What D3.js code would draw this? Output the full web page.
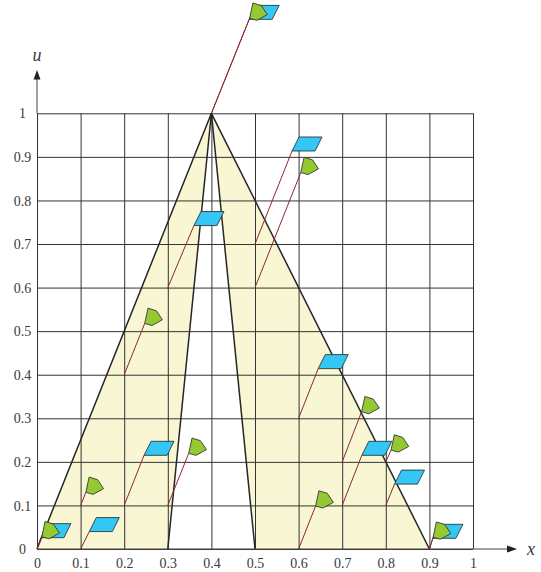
<!DOCTYPE html>
<html>
<head>
  <meta charset="utf-8">
  <script src="https://d3js.org/d3.v7.min.js"></script>
  <style>
    html, body { margin: 0; padding: 0; background: #fff; }
    svg { display: block; }
    svg text { font-family: "Liberation Serif", "Times New Roman", Times !important; fill: #3a3a3a; }
  </style>
</head>
<body>
<div id="chart"></div>

<script>
  var xTicks = [0, 0.1, 0.2, 0.3, 0.4, 0.5, 0.6, 0.7, 0.8, 0.9, 1];
  var uTicks = [0, 0.1, 0.2, 0.3, 0.4, 0.5, 0.6, 0.7, 0.8, 0.9, 1];

  // the two shaded pieces, [x, u]
  var leftPiece = [[0, 0], [0.4, 1], [0.3, 0]];
  var rightPiece = [[0.5, 0], [0.4, 1], [0.9, 0]];

  // trajectories: start on the grid -> where the marker sits
  var blueStartX = [0, 0.1, 0.2, 0.3, 0.5, 0.6, 0.7, 0.8, 0.9, 0.4];
  var blueStartU = [0, 0, 0.1, 0.6, 0.7, 0.3, 0.1, 0.1, 0, 1];
  var blueEndX = [0.009, 0.120, 0.2455, 0.36, 0.585, 0.645, 0.745, 0.82, 0.908, 0.4867];
  var blueEndU = [0.026, 0.040, 0.215, 0.7424, 0.9135, 0.414, 0.215, 0.149, 0.0245, 1.2156];

  var greenStartX = [0, 0.1, 0.2, 0.3, 0.5, 0.6, 0.7, 0.8, 0.9, 0.4];
  var greenStartU = [0, 0.1, 0.4, 0.1, 0.6, 0, 0.2, 0.2, 0, 1];
  var greenEndX = [0.011, 0.112, 0.247, 0.348, 0.605, 0.639, 0.7445, 0.812, 0.9085, 0.4876];
  var greenEndU = [0.028, 0.13, 0.5176, 0.2195, 0.864, 0.0986, 0.315, 0.227, 0.027, 1.218];

  var width = 541, height = 572;

  var x = d3.scaleLinear().domain([0, 1]).range([37, 473]);
  var u = d3.scaleLinear().domain([0, 1]).range([549, 113.3]);

  var svg = d3.select('#chart').append('svg')
    .attr('width', width)
    .attr('height', height);

  var line = d3.line()
    .x(function(d) { return x(d[0]); })
    .y(function(d) { return u(d[1]); });

  // shading goes under the grid
  svg.selectAll('path.piece')
    .data([leftPiece, rightPiece])
    .enter().append('path')
    .attr('class', 'piece')
    .attr('d', function(d) { return line(d) + 'Z'; })
    .attr('fill', '#f8f6d3');

  // grid + tick labels
  var xAxis = svg.append('g')
    .attr('transform', 'translate(0,' + u(0) + ')')
    .call(d3.axisBottom(x).tickValues(xTicks).tickFormat(String)
      .tickSize(u(0) - u(1)).tickSizeOuter(0));
  xAxis.select('.domain').remove();
  xAxis.attr('font-family', null);
  xAxis.selectAll('line').attr('y2', u(1) - u(0)).attr('stroke', '#333').attr('stroke-width', 1);
  xAxis.selectAll('text')
    .attr('y', 18.7).attr('dy', null)
    .style('font-size', '14px');

  var uAxis = svg.append('g')
    .attr('transform', 'translate(' + x(0) + ',0)')
    .call(d3.axisLeft(u).tickValues(uTicks).tickFormat(String)
      .tickSize(x(0) - x(1)).tickSizeOuter(0));
  uAxis.select('.domain').remove();
  uAxis.attr('font-family', null);
  uAxis.selectAll('line').attr('stroke', '#333').attr('stroke-width', 1);
  uAxis.selectAll('text')
    .attr('x', -14.5).attr('dy', '0.33em')
    .attr('text-anchor', 'middle')
    .style('font-size', '14px');

  // outline of the shaded pieces
  svg.selectAll('path.edge')
    .data([leftPiece, rightPiece])
    .enter().append('path')
    .attr('class', 'edge')
    .attr('d', line)
    .attr('fill', 'none')
    .attr('stroke', '#262626')
    .attr('stroke-width', 1.5);

  // arrow axes
  svg.append('line')
    .attr('x1', x(0)).attr('y1', u(0))
    .attr('x2', 510).attr('y2', u(0))
    .attr('stroke', '#444').attr('stroke-width', 1);
  svg.append('line')
    .attr('x1', x(0)).attr('y1', u(1))
    .attr('x2', x(0)).attr('y2', 78)
    .attr('stroke', '#444').attr('stroke-width', 1);
  svg.append('path')
    .attr('d', 'M517,' + u(0) + 'L507,' + (u(0) - 3.5) + 'L507,' + (u(0) + 3.5) + 'Z')
    .attr('fill', '#222');
  svg.append('path')
    .attr('d', 'M' + x(0) + ',70L' + (x(0) - 3.5) + ',79.5L' + (x(0) + 3.5) + ',79.5Z')
    .attr('fill', '#222');

  svg.append('text')
    .attr('x', x(0)).attr('y', 61)
    .attr('text-anchor', 'middle')
    .style('font-size', '18px').style('font-style', 'italic')
    .text('u');
  svg.append('text')
    .attr('x', 531).attr('y', 555)
    .attr('text-anchor', 'middle')
    .style('font-size', '18px').style('font-style', 'italic')
    .text('x');

  // trajectories
  function drawPaths(sx, su, ex, eu) {
    svg.append('g').selectAll('line')
      .data(sx)
      .enter().append('line')
      .attr('x1', function(d) { return x(d); })
      .attr('y1', function(d, i) { return u(su[i]); })
      .attr('x2', function(d, i) { return x(ex[i]); })
      .attr('y2', function(d, i) { return u(eu[i]); })
      .attr('stroke', '#8e2731')
      .attr('stroke-width', 1);
  }
  drawPaths(blueStartX, blueStartU, blueEndX, blueEndU);
  drawPaths(greenStartX, greenStartU, greenEndX, greenEndU);

  // markers, drawn from the lower left corner
  var blueShape = 'M0,0L23,0L30,-14L7,-14Z';
  var greenShape = 'M0,0L3.3,-15.3L11.7,-12.7L17.7,-3.7L7.3,2Z';

  function drawMarkers(ex, eu, shape, colour) {
    svg.append('g').selectAll('path')
      .data(ex)
      .enter().append('path')
      .attr('d', shape)
      .attr('transform', function(d, i) { return 'translate(' + x(d) + ',' + u(eu[i]) + ')'; })
      .attr('fill', colour)
      .attr('stroke', '#2f3a3a')
      .attr('stroke-width', 0.9)
      .attr('stroke-linejoin', 'round');
  }
  drawMarkers(blueEndX, blueEndU, blueShape, '#34c6f4');
  drawMarkers(greenEndX, greenEndU, greenShape, '#96c832');
</script>
</body>
</html>
